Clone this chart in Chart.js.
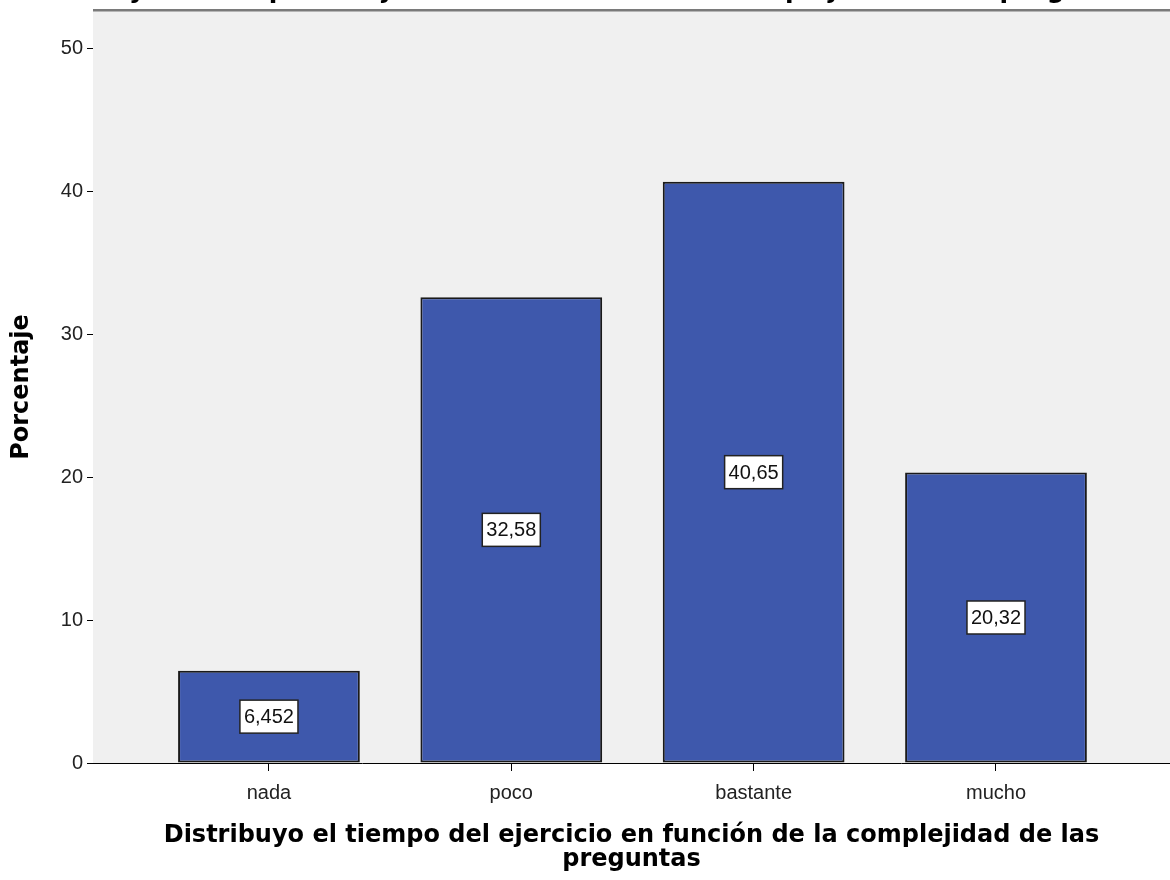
<!DOCTYPE html>
<html>
<head>
<meta charset="utf-8">
<script src="https://cdn.jsdelivr.net/npm/chart.js@4.4.1/dist/chart.umd.min.js"></script>
<style>
  html, body { margin: 0; padding: 0; background: #ffffff; }
  #wrap { width: 1170px; height: 880px; }
</style>
</head>
<body>
<div id="wrap"><canvas id="grafico" width="1170" height="880"></canvas></div>
<script>
// Datos del gráfico
const categorias = ["nada", "poco", "bastante", "mucho"];
const porcentajes = [6.452, 32.58, 40.65, 20.32];
const etiquetasValor = ["6,452", "32,58", "40,65", "20,32"];
const ticksY = [0, 10, 20, 30, 40, 50];
const tituloEje = "Distribuyo el tiempo del ejercicio en función de la complejidad de las preguntas";
const tituloEjeX = ["Distribuyo el tiempo del ejercicio en función de la complejidad de las", "preguntas"];
const tituloEjeY = "Porcentaje";

// Fondo gris del área de trazado y borde superior
const fondoPlugin = {
    id: "fondo",
    beforeDatasetsDraw(chart) {
        const a = chart.chartArea;
        const c = chart.ctx;
        c.save();
        c.fillStyle = "#f0f0f0";
        c.fillRect(a.left, a.top, a.right - a.left, a.bottom - a.top);
        c.fillStyle = "#7a7a7a";
        c.fillRect(a.left, a.top - 2, a.right - a.left, 2);
        c.fillStyle = "#b5b5b5";
        c.fillRect(a.left, a.top, a.right - a.left, 1);
        c.restore();
    }
};

// Etiquetas de valor en el centro de cada barra
const etiquetasPlugin = {
    id: "etiquetas",
    afterDatasetsDraw(chart) {
        const c = chart.ctx;
        const meta = chart.getDatasetMeta(0);
        c.save();
        c.font = "20px 'Liberation Sans', Arial, sans-serif";
        c.textAlign = "center";
        c.textBaseline = "middle";
        meta.data.forEach((bar, i) => {
            const txt = etiquetasValor[i];
            const cx = bar.x;
            const cy = (bar.y + bar.base) / 2;
            const w = c.measureText(txt).width + 8;
            const h = 33;
            c.fillStyle = "#ffffff";
            c.fillRect(cx - w / 2, cy - h / 2, w, h);
            c.strokeStyle = "#222222";
            c.lineWidth = 1.5;
            c.strokeRect(cx - w / 2, cy - h / 2, w, h);
            c.fillStyle = "#111111";
            c.fillText(txt, cx, cy + 1);
        });
        c.restore();
    }
};

// Título superior (queda recortado por el borde de la imagen)
const tituloPlugin = {
    id: "tituloSuperior",
    afterDraw(chart) {
        const c = chart.ctx;
        c.save();
        c.font = "bold 25px 'DejaVu Sans', Verdana, sans-serif";
        c.textAlign = "center";
        c.textBaseline = "alphabetic";
        c.fillStyle = "#000000";
        c.fillText(tituloEje, 580, -2);
        c.restore();
    }
};

const ctx = document.getElementById("grafico").getContext("2d");

new Chart(ctx, {
    type: "bar",
    data: {
        datasets: [{
            data: porcentajes.map((v, i) => ({ x: i, y: v })),
            backgroundColor: "#3e58ac",
            borderColor: "#1a1a1a",
            borderWidth: 2,
            borderSkipped: false,
            barPercentage: 0.75,
            categoryPercentage: 1.0
        }]
    },
    options: {
        responsive: false,
        animation: false,
        layout: { padding: { top: 11, right: 0, bottom: 0, left: 0 } },
        plugins: {
            legend: { display: false },
            tooltip: { enabled: false }
        },
        scales: {
            x: {
                type: "linear",
                offset: false,
                min: -0.726,
                max: 3.718,
                afterFit(scale) {
                    scale.height = 117;
                    scale.paddingLeft = 0;
                    scale.paddingRight = 0;
                },
                afterBuildTicks(scale) {
                    scale.ticks = categorias.map((_, i) => ({ value: i }));
                },
                ticks: {
                    autoSkip: false,
                    maxRotation: 0,
                    padding: 10,
                    color: "#222222",
                    font: { family: "'Liberation Sans', Arial, sans-serif", size: 20 },
                    callback: (v) => categorias[v] !== undefined ? categorias[v] : ""
                },
                grid: {
                    offset: false,
                    drawOnChartArea: false,
                    drawTicks: true,
                    tickLength: 8,
                    color: "#000000"
                },
                border: { display: true, color: "#000000", width: 1 },
                title: {
                    display: true,
                    text: tituloEjeX,
                    color: "#000000",
                    font: { family: "'DejaVu Sans', Verdana, sans-serif", size: 24, weight: "bold", lineHeight: 1.0 },
                    padding: { top: 0, bottom: 8 }
                }
            },
            y: {
                min: 0,
                max: 52.6,
                afterFit(scale) {
                    scale.width = 93;
                    scale.paddingTop = 0;
                    scale.paddingBottom = 0;
                },
                afterBuildTicks(scale) {
                    scale.ticks = ticksY.map(v => ({ value: v }));
                },
                ticks: {
                    padding: 4,
                    color: "#222222",
                    font: { family: "'Liberation Sans', Arial, sans-serif", size: 20 }
                },
                grid: {
                    drawOnChartArea: false,
                    drawTicks: true,
                    tickLength: 6,
                    color: "#000000"
                },
                border: { display: true, color: "#000000", width: 1 },
                title: {
                    display: true,
                    text: tituloEjeY,
                    color: "#000000",
                    font: { family: "'DejaVu Sans', Verdana, sans-serif", size: 24, weight: "bold", lineHeight: 1.0 },
                    padding: { top: 10, bottom: 0 }
                }
            }
        }
    },
    plugins: [fondoPlugin, etiquetasPlugin, tituloPlugin]
});
</script>
</body>
</html>
